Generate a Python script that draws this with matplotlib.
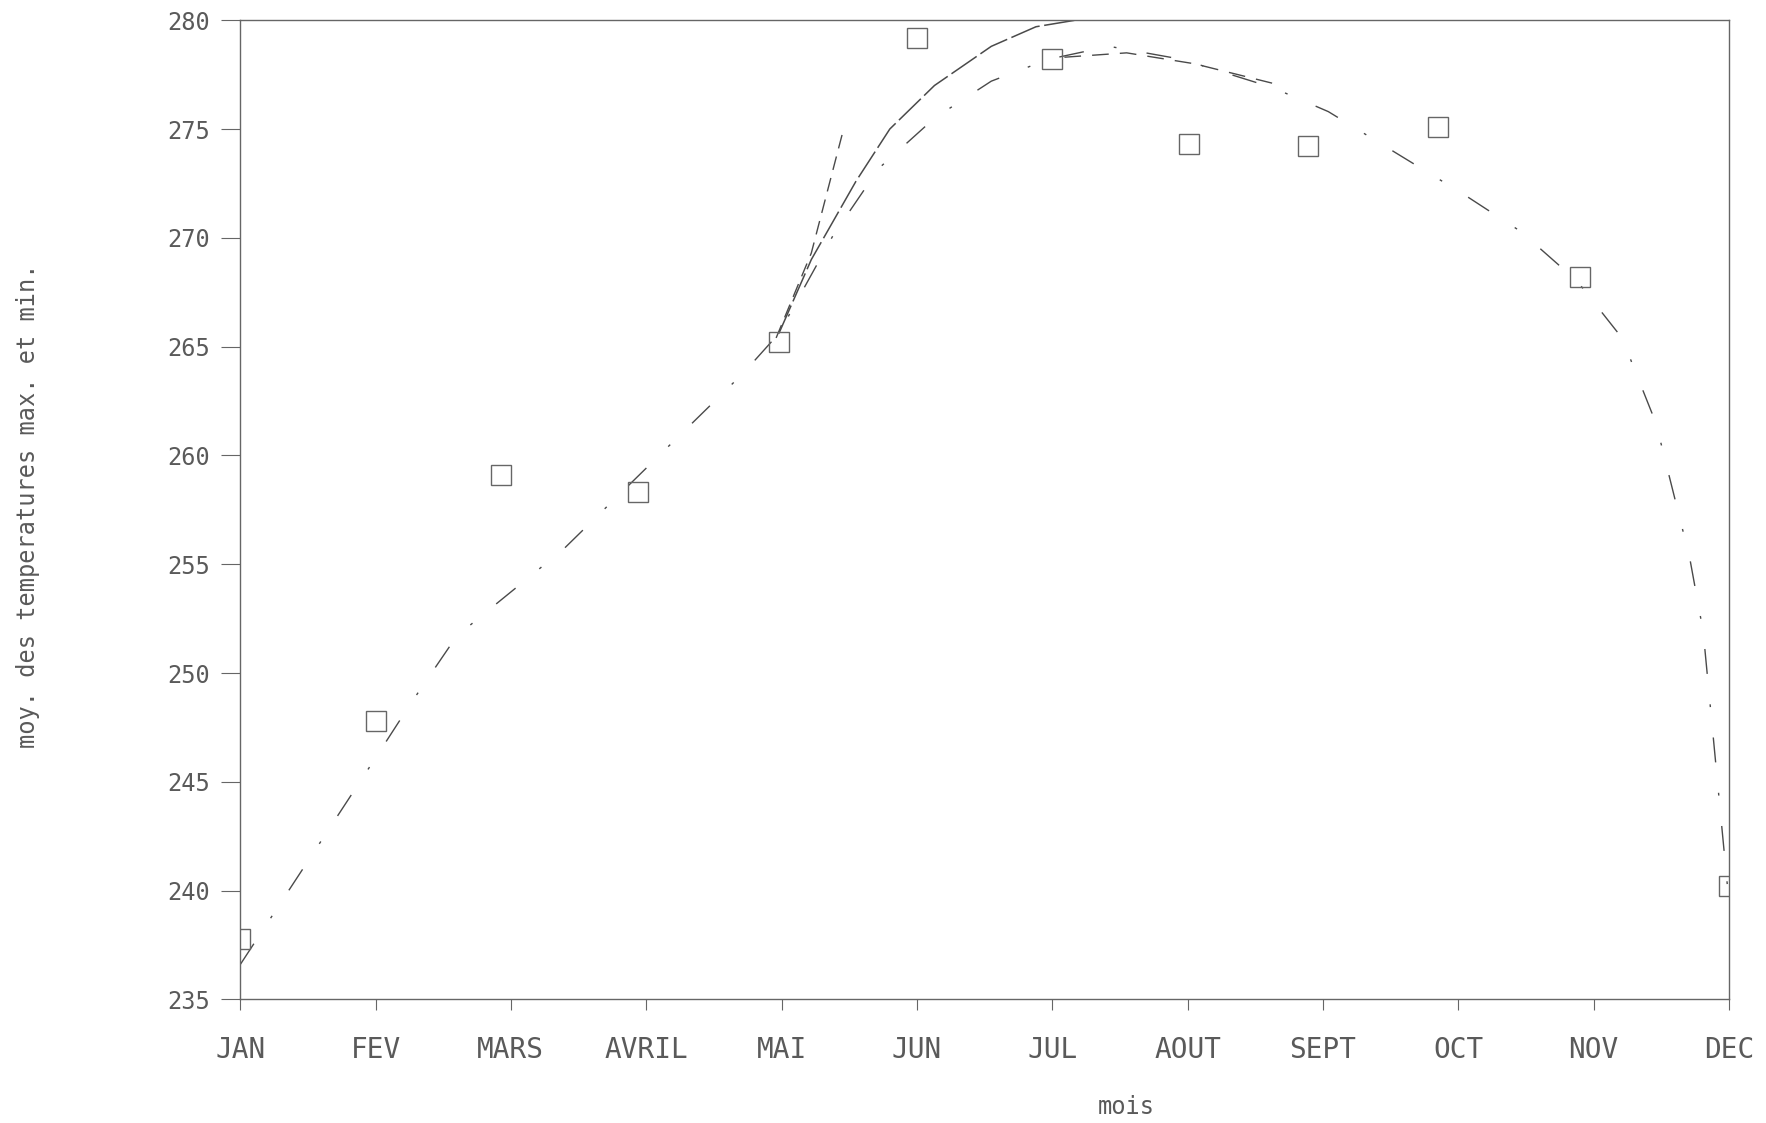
import matplotlib
matplotlib.use("Agg")
import matplotlib.pyplot as plt

# month labels on the x axis (JAN = 0 ... DEC = 11)
months = ["JAN", "FEV", "MARS", "AVRIL", "MAI", "JUN", "JUL", "AOUT", "SEPT", "OCT", "NOV", "DEC"]
month_pos = list(range(12))

# observed monthly values (squares)
obs_x = [0, 1, 1.93, 2.94, 3.98, 5.0, 6.0, 7.01, 7.89, 8.85, 9.9, 11.0]
obs_y = [237.8, 247.8, 259.1, 258.3, 265.2, 279.2, 278.2, 274.3, 274.2, 275.1, 268.2, 240.2]

# fitted curve over the whole year (dash-dot)
fit_x = [0.0, 1.0, 1.26, 1.6, 2.39, 3.72, 3.98, 4.38, 4.72, 5.13, 5.55, 5.97, 6.42,
         6.96, 7.63, 8.04, 8.54, 9.04, 9.46, 9.88, 10.21, 10.46, 10.71, 10.81, 11.0]
fit_y = [236.6, 246.1, 248.6, 251.7, 255.7, 263.8, 265.6, 270.1, 273.2, 275.5, 277.2, 278.2, 278.8,
         278.2, 276.9, 275.8, 273.9, 272.0, 270.3, 268.0, 265.4, 261.5, 255.3, 251.9, 239.5]

# upper curve from MAI to JUL
up_x = [3.98, 4.22, 4.55, 4.8, 5.13, 5.55, 5.88, 6.17]
up_y = [265.6, 269.0, 272.6, 275.0, 277.0, 278.8, 279.7, 280.0]

# short steep segment after MAI
steep_x = [3.96, 4.22, 4.45]
steep_y = [265.4, 269.3, 274.8]

# second segment past the peak
peak_x = [6.09, 6.55, 7.05, 7.63]
peak_y = [278.3, 278.5, 278.0, 277.1]

yticks = [235, 240, 245, 250, 255, 260, 265, 270, 275, 280]

ink = "#4a4a4a"
mono = "DejaVu Sans Mono"

fig = plt.figure(figsize=(17.66, 11.23), dpi=100)
ax = fig.add_axes([0.136, 0.110, 0.843, 0.872])

ax.plot(fit_x, fit_y, color=ink, lw=1.0, linestyle=(0, (18, 22, 2, 22)))
ax.plot(up_x, up_y, color=ink, lw=1.1, linestyle=(0, (20, 3)))
ax.plot(steep_x, steep_y, color=ink, lw=1.0, linestyle=(0, (10, 6)))
ax.plot(peak_x, peak_y, color=ink, lw=1.0, linestyle=(0, (12, 8)))
ax.plot(obs_x, obs_y, linestyle="none", marker="s", markersize=14,
        markerfacecolor="none", markeredgecolor="#666666", markeredgewidth=1.0)

ax.set_xlim(0, 11)
ax.set_ylim(235, 280)
ax.set_xticks(month_pos[:12])
ax.set_xticklabels(months)
ax.set_yticks(yticks)

for s in ax.spines.values():
    s.set_color("#666666")
    s.set_linewidth(1.0)

ax.tick_params(axis="y", direction="out", length=14, width=0.8, color="#666666",
               pad=8, labelsize=17, labelcolor="#5a5a5a")
ax.tick_params(axis="x", direction="out", length=8, width=0.8, color="#666666",
               pad=18, labelsize=20, labelcolor="#5a5a5a")
for lab in ax.get_xticklabels() + ax.get_yticklabels():
    lab.set_family(mono)

fig.text(0.016, 0.55, "moy. des temperatures max. et min.", rotation=90,
         ha="center", va="center", fontsize=17, family=mono, color="#5a5a5a")
fig.text(0.638, 0.004, "mois", ha="center", va="bottom", fontsize=17,
         family=mono, color="#5a5a5a")

fig.savefig("out.png", dpi=100)
